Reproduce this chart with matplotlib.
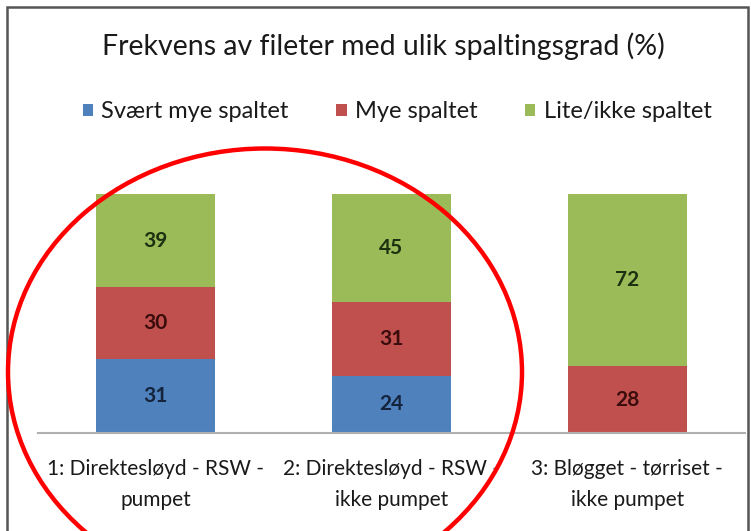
import matplotlib
matplotlib.use("Agg")
import matplotlib.pyplot as plt
from matplotlib.patches import Ellipse, Rectangle
import numpy as np

title = "Frekvens av fileter med ulik spaltingsgrad (%)"
categories = ["1: Direktesløyd - RSW -\npumpet",
              "2: Direktesløyd - RSW -\nikke pumpet",
              "3: Bløgget - tørriset -\nikke pumpet"]
series_names = ["Svært mye spaltet", "Mye spaltet", "Lite/ikke spaltet"]
svaert = [31, 24, 0]
mye = [30, 31, 28]
lite = [39, 45, 72]

colors = ["#4F81BD", "#C0504D", "#9BBB59"]
label_colors = ["#15243d", "#3a0c0c", "#1d3010"]

plt.rcParams['font.family'] = ['Lato', 'DejaVu Sans']

W, H = 751, 531
fig = plt.figure(figsize=(W / 100, H / 100), dpi=100)
fig.patch.set_facecolor("white")

# axes: x from 38 to 745 px, y baseline at 433, 100% at 194
ax_left, ax_right = 38 / W, 745 / W
ax_bottom = 1 - 433 / H
ax_top = 1 - 194 / H
ax = fig.add_axes([ax_left, ax_bottom, ax_right - ax_left, ax_top - ax_bottom])
ax.set_xlim(-0.5, 2.5)
ax.set_ylim(0, 100)

x = np.arange(len(categories))
series = [svaert, mye, lite]
bottom = np.zeros(len(categories))
width = 0.505
for vals, col, lc, name in zip(series, colors, label_colors, series_names):
    vals = np.array(vals, dtype=float)
    ax.bar(x, vals, width, bottom=bottom, color=col, label=name, zorder=2)
    for xi, v, b in zip(x, vals, bottom):
        if v > 0:
            ax.text(xi, b + v / 2, f"{int(v)}", ha="center", va="center",
                    fontsize=15, fontweight="bold", color=lc)
    bottom += vals

for s in ["left", "right", "top"]:
    ax.spines[s].set_visible(False)
ax.spines["bottom"].set_color("#B0B0B0")
ax.spines["bottom"].set_linewidth(1.5)
ax.set_yticks([])
ax.set_xticks(x)
ax.set_xticklabels(categories, fontsize=15, color="#1a1a1a", linespacing=1.65)
ax.tick_params(axis="x", length=0, pad=19)
ax.set_facecolor("none")

# title
fig.text(383 / W, 1 - 46 / H, title, ha="center", va="center", fontsize=20.5, color="#1a1a1a")

# legend
handles, labels = ax.get_legend_handles_labels()
leg = fig.legend(handles, labels, loc="center", bbox_to_anchor=(397 / W, 1 - 112 / H),
                 ncol=3, frameon=False, fontsize=17, handlelength=0.45, handleheight=0.45,
                 handletextpad=0.35, columnspacing=2.0)
for t in leg.get_texts():
    t.set_color("#1a1a1a")

# border
fig.add_artist(Rectangle((7 / W, -0.1), (748 - 7) / W, 1.1 - 7 / H,
                         transform=fig.transFigure, fill=False,
                         edgecolor="#555555", linewidth=1.8))

# red ellipse annotation
fig.add_artist(Ellipse((265 / W, 1 - 372 / H), 514 / W, 447 / H,
                       transform=fig.transFigure, fill=False,
                       edgecolor="#FF0000", linewidth=3.2, zorder=10))

fig.savefig("out.png", dpi=100)
